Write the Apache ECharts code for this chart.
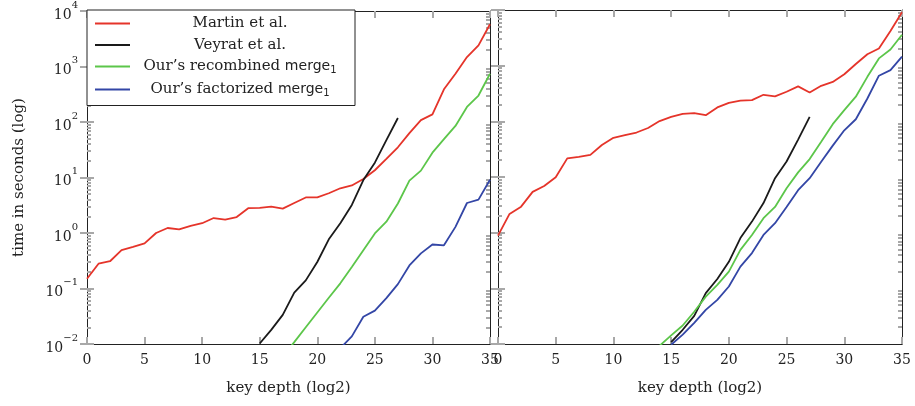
<!DOCTYPE html>
<html>
<head>
<meta charset="utf-8">
<script src="https://cdn.jsdelivr.net/npm/echarts@6/dist/echarts.min.js"></script>
<style>
html, body { margin: 0; padding: 0; background: #fff; }
#chart { width: 915px; height: 406px; }
</style>
</head>
<body>
<div id="chart"></div>
<script>
// key depth (log2), shared by both panels
var depth = [0, 1, 2, 3, 4, 5, 6, 7, 8, 9, 10, 11, 12, 13, 14, 15, 16, 17,
	18, 19, 20, 21, 22, 23, 24, 25, 26, 27, 28, 29, 30, 31, 32, 33, 34, 35];

var names = ['Martin et al.', 'Veyrat et al.', 'Our’s recombined merge1', 'Our’s factorized merge1'];
var colors = ['#e5342a', '#1a1a1a', '#5cc64a', '#3346a6'];

// left panel, time in seconds
var martinLeft = [0.15, 0.28, 0.31, 0.49, 0.56, 0.65, 1.0, 1.23, 1.16, 1.34,
	1.5, 1.86, 1.74, 1.94, 2.8, 2.84, 3.0, 2.75, 3.47, 4.37,
	4.4, 5.2, 6.4, 7.2, 9.4, 13.5, 21.6, 35, 63, 108,
	137, 389, 741, 1480, 2400, 5760];
var veyratLeft = [null, null, null, null, null, null, null, null, null, null,
	null, null, null, null, null, 0.0102, 0.018, 0.0335, 0.084, 0.14,
	0.30, 0.77, 1.5, 3.2, 9.0, 18.5, 47, 118, null, null,
	null, null, null, null, null, null];
var recombinedLeft = [null, null, null, null, null, null, null, null, null, null,
	null, null, null, null, null, null, null, 0.0059, 0.0108, 0.020,
	0.037, 0.068, 0.124, 0.245, 0.49, 0.98, 1.6, 3.4, 8.8, 13.3,
	28, 49, 85, 187, 300, 740];
var factorizedLeft = [null, null, null, null, null, null, null, null, null, null,
	null, null, null, null, null, null, null, null, null, null,
	null, null, 0.0084, 0.0137, 0.031, 0.040, 0.067, 0.12, 0.26, 0.43,
	0.62, 0.60, 1.29, 3.47, 4.0, 9.1];

// right panel, time in seconds
var martinRight = [0.885, 2.17, 2.93, 5.4, 6.9, 9.9, 21.6, 23, 25, 37.5,
	50.7, 56.6, 63, 76, 101, 120, 136, 140, 129, 178,
	215, 236, 240, 300, 280, 340, 425, 330, 435, 510,
	700, 1070, 1600, 2040, 4200, 9100];
var veyratRight = [null, null, null, null, null, null, null, null, null, null,
	null, null, null, null, null, 0.0108, 0.018, 0.032, 0.082, 0.147,
	0.30, 0.80, 1.58, 3.4, 9.5, 19, 47, 120, null, null,
	null, null, null, null, null, null];
var recombinedRight = [null, null, null, null, null, null, null, null, null, null,
	null, null, null, null, 0.0093, 0.0143, 0.0215, 0.038, 0.071, 0.115,
	0.20, 0.49, 0.91, 1.82, 2.9, 6.3, 12.1, 21, 43, 89,
	159, 277, 630, 1350, 1950, 3600];
var factorizedRight = [null, null, null, null, null, null, null, null, null, null,
	null, null, null, null, null, 0.0097, 0.0147, 0.024, 0.041, 0.062,
	0.108, 0.245, 0.43, 0.91, 1.48, 2.9, 5.8, 9.5, 18.8, 36.6,
	69, 109, 257, 660, 830, 1450];

// y ticks
var majorTicks = [0.01, 0.1, 1, 10, 100, 1000, 10000];
var minorTicks = [];
for (var e = -2; e < 4; e++) {
	for (var m = 2; m < 10; m++) {
		minorTicks.push(+(m * Math.pow(10, e)).toPrecision(3));
	}
}

var serif = 'DejaVu Serif';
var fontSize = 14;
var tickColor = '#a8a8a8';

// legend text is centred in a fixed-width cell, like the pgfplots legend
var ctx = document.createElement('canvas').getContext('2d');
function measure(text, font) {
	ctx.font = font;
	return ctx.measureText(text).width;
}
var cellWidth = 210;
var rich = {
	t: {fontFamily: serif, fontSize: 15, lineHeight: 18, color: '#222', verticalAlign: 'middle'},
	m: {fontFamily: 'DejaVu Sans', fontSize: 14, lineHeight: 18, color: '#222', verticalAlign: 'middle'},
	s: {fontFamily: 'DejaVu Sans', fontSize: 10, lineHeight: 10, color: '#222', verticalAlign: 'bottom'}
};
var legendText = {};
names.forEach(function(name, i) {
	var w, body;
	if (name.slice(-6) === 'merge1') {
		var head = name.slice(0, -6);
		w = measure(head, '15px ' + serif) + measure('merge', '14px DejaVu Sans') + measure('1', '10px DejaVu Sans');
		body = '{t|' + head + '}{m|merge}{s|1}';
	} else {
		w = measure(name, '15px ' + serif);
		body = '{t|' + name + '}';
	}
	var pad = Math.max(0, (cellWidth - w) / 2);
	rich['p' + i] = {width: pad, lineHeight: 18, fontSize: 15};
	legendText[name] = '{p' + i + '| }' + body + '{p' + i + '| }';
});

function expLabel(v) {
	var n = Math.round(Math.log10(v));
	return '{b|10}{e|' + (n < 0 ? '−' + (-n) : n) + '}';
}

function xAxis(grid, position, labelled) {
	return {
		type: 'value', gridIndex: grid, position: position,
		min: 0, max: 35, interval: 5,
		axisLine: {show: true, lineStyle: {color: '#222', width: 1}},
		axisTick: {show: true, inside: true, length: 7, lineStyle: {color: tickColor, width: 2}},
		axisLabel: {show: labelled, margin: 9, fontFamily: serif, fontSize: fontSize, color: '#222'},
		splitLine: {show: false},
		name: labelled ? 'key depth (log2)' : '',
		nameLocation: 'middle', nameGap: 37,
		nameTextStyle: {fontFamily: serif, fontSize: 15, color: '#222'}
	};
}

function yAxis(grid, position, ticks, len, labelled) {
	var axis = {
		type: 'log', logBase: 10, gridIndex: grid, position: position,
		min: 0.01, max: 10000,
		axisLine: {show: true, lineStyle: {color: '#222', width: 1}},
		axisTick: {show: true, inside: true, length: len, customValues: ticks,
			lineStyle: {color: tickColor, width: 2}},
		axisLabel: {show: false},
		splitLine: {show: false}
	};
	if (labelled) {
		axis.axisLabel = {show: true, customValues: majorTicks, margin: 9, formatter: expLabel,
			rich: {
				b: {fontFamily: serif, fontSize: fontSize, lineHeight: 22, verticalAlign: 'bottom', color: '#222'},
				e: {fontFamily: serif, fontSize: 10, lineHeight: 10, verticalAlign: 'top', color: '#222'}
			}};
		axis.name = 'time in seconds (log)';
		axis.nameLocation = 'middle';
		axis.nameGap = 60;
		axis.nameTextStyle = {fontFamily: serif, fontSize: 15, color: '#222'};
	}
	return axis;
}

function line(i, values, grid) {
	return {
		name: names[i], type: 'line',
		xAxisIndex: grid * 2, yAxisIndex: grid * 4,
		data: depth.map(function(d, k) { return [d, values[k]]; })
			.filter(function(p) { return p[1] != null; }),
		symbol: 'none', clip: true,
		lineStyle: {width: 1.8, color: colors[i]},
		itemStyle: {color: colors[i]}
	};
}

var chart = echarts.init(document.getElementById('chart'));
chart.setOption({
	animation: false,
	backgroundColor: '#fff',
	grid: [
		{left: 87, top: 10, width: 403, height: 334},
		{left: 498, top: 10, width: 404, height: 334}
	],
	xAxis: [
		xAxis(0, 'bottom', true), xAxis(0, 'top', false),
		xAxis(1, 'bottom', true), xAxis(1, 'top', false)
	],
	yAxis: [
		yAxis(0, 'left', majorTicks, 7, true), yAxis(0, 'right', majorTicks, 7, false),
		yAxis(0, 'left', minorTicks, 4, false), yAxis(0, 'right', minorTicks, 4, false),
		yAxis(1, 'left', majorTicks, 7, false), yAxis(1, 'right', majorTicks, 7, false),
		yAxis(1, 'left', minorTicks, 4, false), yAxis(1, 'right', minorTicks, 4, false)
	],
	legend: {
		data: names, orient: 'vertical', left: 87, top: 10,
		padding: [6, 10, 7, 8], itemWidth: 35, itemHeight: 2, itemGap: 6.5,
		icon: 'rect',
		backgroundColor: '#fff', borderColor: '#222', borderWidth: 1,
		formatter: function(name) { return legendText[name]; },
		textStyle: {rich: rich}
	},
	series: [
		line(0, martinLeft, 0), line(1, veyratLeft, 0), line(2, recombinedLeft, 0), line(3, factorizedLeft, 0),
		line(0, martinRight, 1), line(1, veyratRight, 1), line(2, recombinedRight, 1), line(3, factorizedRight, 1)
	]
});
</script>
</body>
</html>
